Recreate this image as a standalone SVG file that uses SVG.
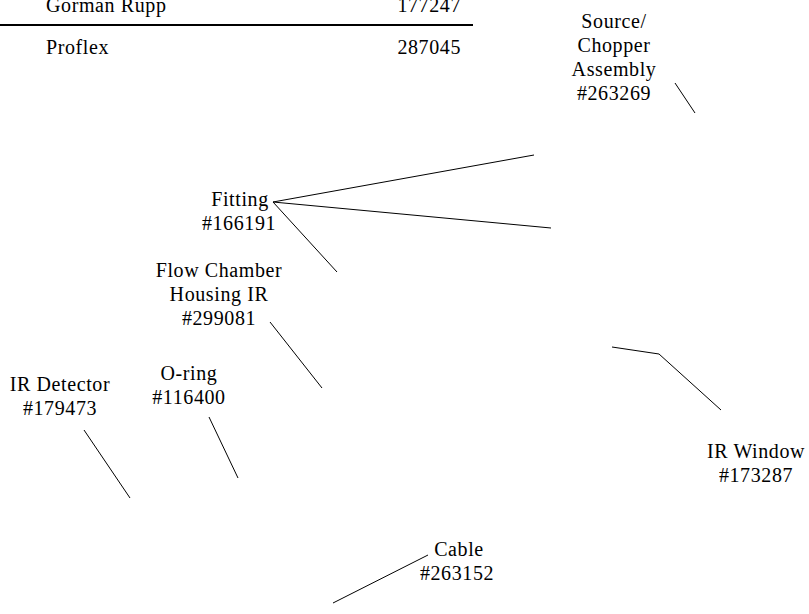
<svg xmlns="http://www.w3.org/2000/svg" width="809" height="614" viewBox="0 0 809 614">
<style>
text { font-family: "Liberation Serif", "Times New Roman", serif; font-size: 20px; letter-spacing: 0.6px; fill: #000; }
.c { text-anchor: middle; }
.r { text-anchor: end; }
.ln { stroke: #000; stroke-width: 1; fill: none; }
</style>
<rect width="809" height="614" fill="#fff"/>
<g id="table">
<text x="46" y="12">Gorman Rupp</text>
<text class="r" x="461" y="12">177247</text>
<line x1="0" y1="25" x2="473" y2="25" stroke="#000" stroke-width="2"/>
<text x="46" y="54">Proflex</text>
<text class="r" x="461" y="54">287045</text>
</g>
<g id="source-chopper">
<text class="c" x="614" y="28">Source/</text>
<text class="c" x="614" y="52">Chopper</text>
<text class="c" x="614" y="76">Assembly</text>
<text class="c" x="614" y="100">#263269</text>
</g>
<g id="fitting">
<text class="c" x="240" y="206">Fitting</text>
<text class="c" x="239" y="230">#166191</text>
</g>
<g id="flow-chamber">
<text class="c" x="219" y="277">Flow Chamber</text>
<text class="c" x="219" y="301">Housing IR</text>
<text class="c" x="219" y="325">#299081</text>
</g>
<g id="ir-detector">
<text class="c" x="60" y="391">IR Detector</text>
<text class="c" x="60" y="415">#179473</text>
</g>
<g id="o-ring">
<text class="c" x="189" y="380">O-ring</text>
<text class="c" x="189" y="404">#116400</text>
</g>
<g id="ir-window">
<text class="c" x="756" y="458">IR Window</text>
<text class="c" x="756" y="482">#173287</text>
</g>
<g id="cable">
<text class="c" x="459" y="556">Cable</text>
<text class="c" x="457" y="580">#263152</text>
</g>
<g id="connectors">
<line class="ln" x1="675" y1="83" x2="695" y2="113"/>
<line class="ln" x1="273" y1="202" x2="534" y2="155"/>
<line class="ln" x1="273" y1="202" x2="551" y2="228"/>
<line class="ln" x1="273" y1="202" x2="337" y2="272"/>
<line class="ln" x1="270" y1="322" x2="322" y2="388"/>
<line class="ln" x1="84" y1="430" x2="130" y2="498"/>
<line class="ln" x1="209" y1="417" x2="238" y2="478"/>
<polyline class="ln" points="612,347 659,354 721,410"/>
<line class="ln" x1="428" y1="555" x2="333" y2="603"/>
</g>
</svg>
